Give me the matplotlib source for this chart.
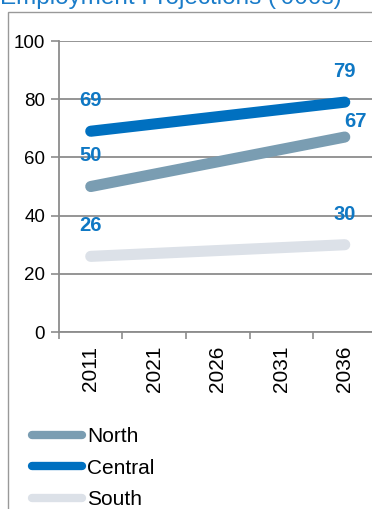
import matplotlib.pyplot as plt
from matplotlib.patches import Rectangle

plt.rcParams['font.family'] = ['Liberation Sans', 'DejaVu Sans']

# Employment projections ('000s) by region
years = ['2011', '2021', '2026', '2031', '2036']
point_idx = [0, 4]  # projections given for first and last year only
north = [50, 67]
central = [69, 79]
south = [26, 30]

series = [
    ('North', north, '#7a9db2'),
    ('Central', central, '#0070c0'),
    ('South', south, '#dce1e8'),
]
label_color = '#0f78c4'
grid_color = '#8c8c8c'

fig = plt.figure(figsize=(3.72, 5.09), dpi=100)
ax = fig.add_axes([0.1586, 0.3477, 0.8535, 0.5717])

lines = []
for name, vals, color in series:
    ln, = ax.plot(point_idx, vals, color=color, lw=8, solid_capstyle='round', label=name, zorder=3)
    lines.append(ln)

# value labels above the end points
offsets = {
    ('North', 0): (0, 22), ('North', 1): (8, 11),
    ('Central', 0): (0, 22), ('Central', 1): (0, 22),
    ('South', 0): (0, 22), ('South', 1): (0, 22),
}
for name, vals, color in series:
    for k, (x, v) in enumerate(zip(point_idx, vals)):
        ax.annotate(str(v), (x, v), xytext=offsets[(name, k)], textcoords='offset points',
                    ha='center', va='center', fontsize=14.5, fontweight='bold',
                    color=label_color, zorder=4)

ax.set_ylim(0, 100)
ax.set_yticks(range(0, 101, 20))
ax.set_xlim(-0.5, 4.5)
ax.set_xticks(range(len(years)))
ax.set_xticklabels(years, rotation=90)
ax.set_xticks([i - 0.5 for i in range(len(years) + 1)], minor=True)
ax.tick_params(axis='x', which='major', length=0, pad=10, labelsize=15)
ax.tick_params(axis='x', which='minor', length=5, color=grid_color, width=1.2)
ax.tick_params(axis='y', length=6, color=grid_color, width=1.2, labelsize=13.5, pad=4)

ax.grid(axis='y', color=grid_color, lw=1.3)
ax.set_axisbelow(True)
for s in ['top', 'right']:
    ax.spines[s].set_visible(False)
for s in ['left', 'bottom']:
    ax.spines[s].set_color(grid_color)
    ax.spines[s].set_linewidth(1.3)

# outer chart frame
fig.patches.append(Rectangle((0.0215, -0.1), 1.2, 1.0764, transform=fig.transFigure,
                             fill=False, edgecolor='#999999', lw=1))

fig.text(0.0, 1.0 - 4 / 509, "Employment Projections ('000s)", fontsize=17.5,
         color='#1a7cc9', ha='left', va='baseline')

leg = fig.legend(handles=lines, loc='upper left', bbox_to_anchor=(0.086, 0.161),
                 frameon=False, fontsize=15, handlelength=2.4, handletextpad=0.25,
                 labelspacing=0.6, borderaxespad=0, borderpad=0)
for h in leg.legend_handles:
    h.set_linewidth(6)
    h.set_solid_capstyle('round')

fig.savefig('out.png', dpi=100)
